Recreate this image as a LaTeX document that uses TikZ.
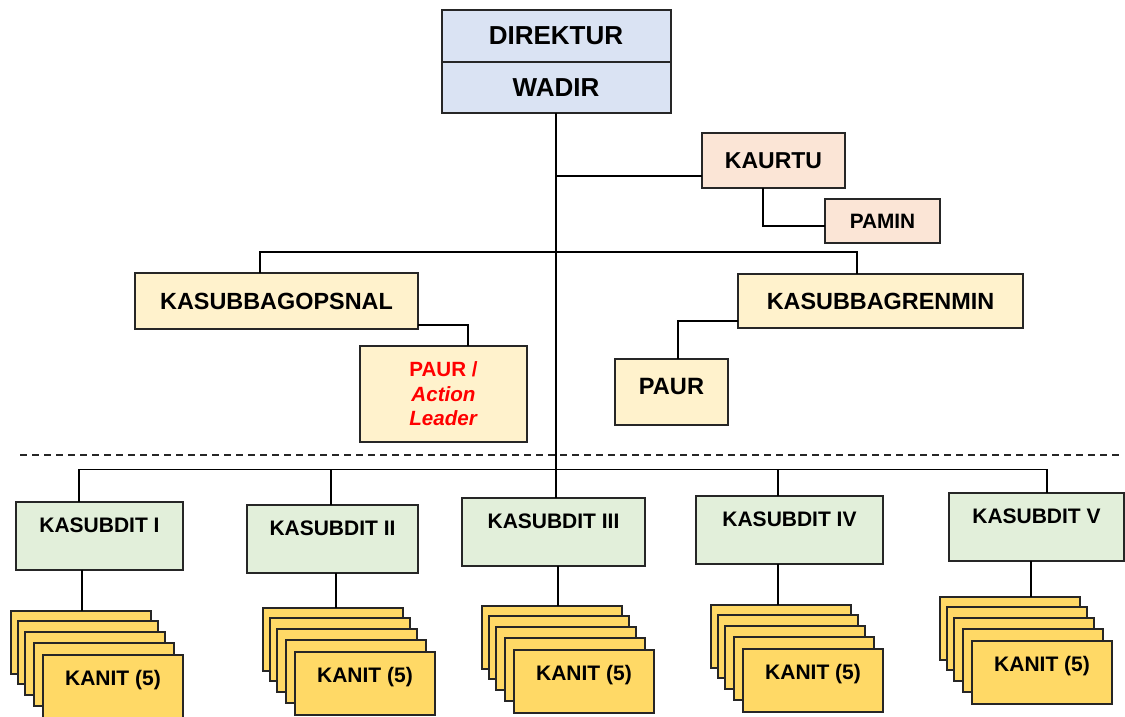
\documentclass[tikz,border=0pt]{standalone}
\usepackage{fontspec}
\setmainfont{Liberation Sans}
\usepackage{tikz}
\usetikzlibrary{calc}

\definecolor{boardblue}{HTML}{DAE3F3}
\definecolor{staffrose}{HTML}{FBE5D6}
\definecolor{bagcream}{HTML}{FFF2CC}
\definecolor{subgreen}{HTML}{E2EFDA}
\definecolor{unitgold}{HTML}{FFD966}

\begin{document}
\begin{tikzpicture}[
    x=0.5pt,y=-0.5pt,
    box/.style={rectangle,draw=black!85,line width=1pt,inner sep=0pt,outer sep=0pt,font=\bfseries},
    head/.style={box,fill=boardblue,minimum width=114.5pt,font=\fontsize{13}{15}\selectfont\bfseries},
    staff/.style={box,fill=staffrose},
    bag/.style={box,fill=bagcream},
    subdit/.style={box,fill=subgreen,font=\fontsize{10.5}{12}\selectfont\bfseries,text height=15.25pt,text depth=18.75pt},
    kanit/.style={box,fill=unitgold,minimum width=70pt,minimum height=31.5pt,font=\fontsize{10.5}{12}\selectfont\bfseries,text height=15pt,text depth=16.5pt},
    link/.style={line width=0.9pt,black},
    divider/.style={line width=0.8pt,black!85,dash pattern=on 3.5pt off 2.5pt}
]
\useasboundingbox (0,0) rectangle (1125,717);

\node[head,minimum height=26pt] (dir) at (556,36) {DIREKTUR};
\node[head,minimum height=25.5pt,anchor=north] (wadir) at (dir.south) {WADIR};

\node[staff,minimum width=71.5pt,minimum height=27.5pt,font=\fontsize{11.5}{14}\selectfont\bfseries] (kaurtu) at (773.5,160.5) {KAURTU};
\node[staff,minimum width=57.5pt,minimum height=22pt,font=\fontsize{10.4}{12}\selectfont\bfseries] (pamin) at (882.5,221) {PAMIN};

\node[bag,minimum width=141.5pt,minimum height=28pt,font=\fontsize{11.7}{14}\selectfont\bfseries] (ops) at (276.5,301) {KASUBBAGOPSNAL};
\node[bag,minimum width=142.5pt,minimum height=27pt,font=\fontsize{11.7}{14}\selectfont\bfseries] (ren) at (880.5,301) {KASUBBAGRENMIN};
\node[bag,minimum width=83.5pt,minimum height=48pt,align=center,text=red,font=\fontsize{10.3}{12.2}\selectfont\bfseries] (leader) at (443.5,394) {PAUR /\\\textit{Action}\\\textit{Leader}};
\node[bag,minimum width=56.5pt,font=\fontsize{11.8}{14}\selectfont\bfseries,text height=17.5pt,text depth=15.5pt] (paur) at (671.5,392) {PAUR};

% subdirektorat
\foreach \n/\x/\y/\w/\t in {1/99.5/535.5/83.5/I,2/332.5/539/85.5/II,3/553.5/532/91.5/III,4/789.5/530/93.5/IV,5/1036.5/527/87.5/V}
  \node[subdit,minimum width=\w pt] (sub\n) at (\x,\y) {KASUBDIT \t};

% stacks of unit heads
\foreach \n/\x/\y in {1/11/611,2/263/608,3/482/606,4/711/605,5/940/597}{
  \foreach \k/\dx/\dy in {1/0/0,2/7/10,3/14/21,4/23/32}
    \node[kanit,anchor=north west] (kanit\n-\k) at (\x+\dx,\y+\dy) {};
  \node[kanit,anchor=north west] (kanit\n-5) at (\x+32,\y+44) {KANIT (5)};
}

\coordinate (bus) at (0,470);
\draw[link] (wadir.south) -- (wadir.south |- sub3.north);
\coordinate (ktap) at ($(kaurtu.west)+(0,15.5)$);
\draw[link] (ktap) -- (ktap -| wadir.south);
\draw[link] ($(kaurtu.south)+(-10.5,0)$) |- ($(pamin.west)+(0,5)$);
\draw[link] ($(ops.north)+(-16.5,0)$) -- ++(0,-21) -| ($(ren.north)+(-23.5,0)$);
\draw[link] ($(ops.east)+(0,24)$) -| ($(leader.north)+(24.5,0)$);
\draw[link] ($(ren.west)+(0,20)$) -| ($(paur.north)+(6.5,0)$);

\draw[divider] (20,455) -- (1120,455);

\draw[link] ($(sub1.north)+(-20.5,0)$) -- ++(0,-32) -| ($(sub5.north)+(10.5,0)$);
\foreach \s/\dx in {sub2/-1.5,sub4/-11.5}
  \draw[link] ($(\s.north)+(\dx,0)$) coordinate (tap) -- (tap |- bus);
\foreach \n/\dx in {1/-17.5,2/3.5,3/4.5,4/-11.5,5/-5.5}
  \draw[link] ($(sub\n.south)+(\dx,0)$) coordinate (drop) -- (drop |- kanit\n-1.north);
\end{tikzpicture}
\end{document}
